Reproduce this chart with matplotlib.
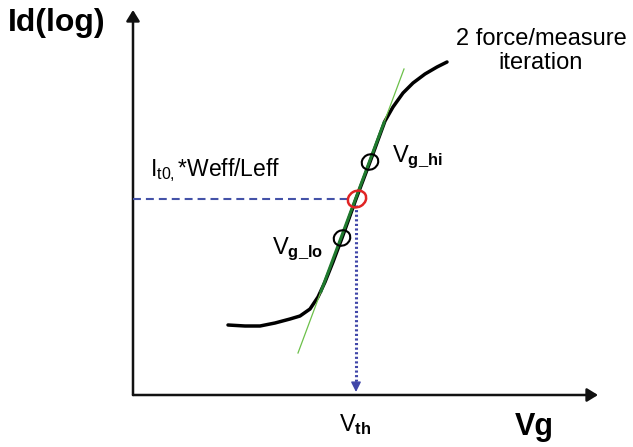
import numpy as np
import matplotlib
matplotlib.use("Agg")
import matplotlib.pyplot as plt
from matplotlib.patches import Ellipse, FancyArrowPatch

plt.rcParams['font.family'] = ['Liberation Sans', 'DejaVu Sans']
plt.rcParams['mathtext.fontset'] = 'custom'
plt.rcParams['mathtext.rm'] = 'Liberation Sans'
plt.rcParams['mathtext.it'] = 'Liberation Sans'
plt.rcParams['mathtext.bf'] = 'Liberation Sans:bold'

# Id-Vg sweep (arbitrary units, log scale on Id)
vg = [95, 112, 127, 142, 157, 167, 177, 185, 192, 200, 209, 223, 237,
      245, 252, 260, 270, 280, 292, 304, 314]
id_log = [70, 69, 69, 72, 76, 79, 86, 98, 113, 133, 157, 196, 233,
          255, 274, 288, 302, 312, 321, 328, 333]

# linear fit through the two force/measure points
tangent_vg = [165, 271]
tangent_id = [42, 326]
fit_range_vg = [188, 251]

vg_lo, id_lo = 209, 157
vg_hi, id_hi = 237, 233
vth, it_target = 223, 196

x_end, y_end = 465, 385

fig = plt.figure(figsize=(6.33, 4.47), dpi=100)
ax = fig.add_axes([0, 0, 1, 1])
ax.set_xlim(-133, 500)
ax.set_ylim(-52, 395)
ax.axis('off')

# axes with arrow heads
for tip in [(0, y_end), (x_end, 0)]:
    ax.add_patch(FancyArrowPatch((0, 0), tip, arrowstyle='-|>,head_length=0.65,head_width=0.4',
                                 mutation_scale=10, color='#111111', lw=1.8,
                                 shrinkA=0, shrinkB=0))

# curve and fitted line
ax.plot(vg, id_log, color='black', lw=2.5, solid_capstyle='round', zorder=3)
ax.plot(tangent_vg, tangent_id, color='#6cc04a', lw=0.9, zorder=4)
slope = (tangent_id[1] - tangent_id[0]) / (tangent_vg[1] - tangent_vg[0])
fit_id = [tangent_id[0] + slope * (v - tangent_vg[0]) for v in fit_range_vg]
ax.plot(fit_range_vg, fit_id, color='#1f7a2e', lw=2.2, zorder=5)

# target current and threshold voltage projections
ax.plot([0, vth - 4], [it_target, it_target], color='#4452a8', lw=1.5,
        dashes=(3.8, 2.4), zorder=2)
ax.plot([vth, vth], [it_target - 6, 14], color='#4046a8', lw=2.2,
        dashes=(0.7, 0.8), zorder=2)
ax.add_patch(FancyArrowPatch((vth, 14), (vth, 3), arrowstyle='-|>,head_length=0.6,head_width=0.3',
                             mutation_scale=10, color='#4046a8', lw=1.0,
                             shrinkA=0, shrinkB=0))

# measurement points
for (cx, cy) in [(vg_lo, id_lo), (vg_hi, id_hi)]:
    ax.add_patch(Ellipse((cx, cy), 17, 15, angle=30, fill=False, ec='black', lw=1.5, zorder=6))
ax.add_patch(Ellipse((vth + 1, it_target), 19, 16, angle=30, fill=False, ec='#e02424', lw=1.8, zorder=6))

# labels
ax.text(-125, 372, 'Id(log)', fontsize=23, fontweight='bold', ha='left', va='center')
ax.text(401, -32, 'Vg', fontsize=22, fontweight='bold', ha='center', va='center')
ax.text(222, -30, r'V$_{\mathbf{th}}$', fontsize=17, ha='center', va='center')
ax.text(259, 238, r'V$_{\mathbf{g\_hi}}$', fontsize=17, ha='left', va='center')
ax.text(139, 146, r'V$_{\mathbf{g\_lo}}$', fontsize=17, ha='left', va='center')
ax.text(17, 225, r'I$_{\mathrm{t0,}}$*Weff/Leff', fontsize=16.5, ha='left', va='center')
ax.text(408, 344, '2 force/measure\niteration', fontsize=17, ha='center', va='center',
        linespacing=1.15)

fig.savefig('out.png', dpi=100)
